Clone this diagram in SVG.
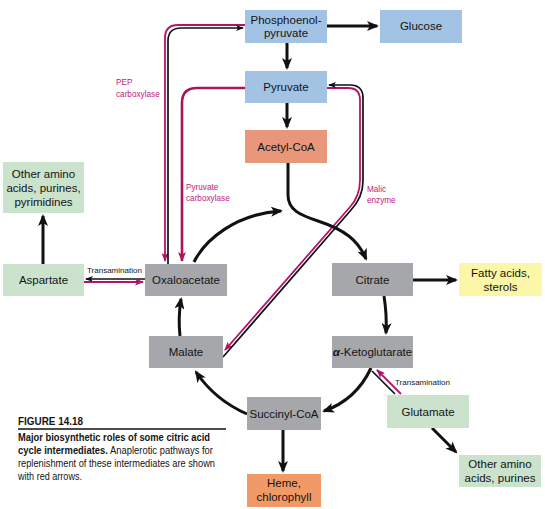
<svg xmlns="http://www.w3.org/2000/svg" width="545" height="509" viewBox="0 0 545 509">
<style>
.t{font-family:"Liberation Sans",Arial,sans-serif;font-size:11.5px;fill:#141414;text-anchor:middle}
.lbl{font-family:"Liberation Sans",Arial,sans-serif;font-size:8.2px;fill:#c0187e}
.tr{font-family:"Liberation Sans",Arial,sans-serif;font-size:8px;fill:#141414}
.cap{font-family:"Liberation Sans Narrow","Liberation Sans",Arial,sans-serif;font-size:10px;fill:#141414}
.blue{fill:#a3c3e5}
.gray{fill:#a6a7aa}
.green{fill:#cbe2cd}
.salmon{fill:#e9977b}
.orange{fill:#f19a68}
.yellow{fill:#fbf7a6}
.k{fill:none;stroke:#111;stroke-width:3}
.kt{fill:none;stroke:#111;stroke-width:1.7}
.m{fill:none;stroke:#b3136f;stroke-width:1.8}
.m2{fill:none;stroke:#a8145f;stroke-width:2.6}
</style>
<defs>
<marker id="ah" viewBox="0 0 12 10" refX="10" refY="5" markerWidth="12" markerHeight="10" orient="auto" markerUnits="userSpaceOnUse"><path d="M0,0 L12,5 L0,10 L3,5z" fill="#111"/></marker>
<marker id="sk" viewBox="0 0 8 6" refX="7" refY="3" markerWidth="8" markerHeight="6" orient="auto" markerUnits="userSpaceOnUse"><path d="M0,0 L8,3 L0,6 L2,3z" fill="#111"/></marker>
<marker id="sm" viewBox="0 0 9 7" refX="8" refY="3.5" markerWidth="9" markerHeight="7" orient="auto" markerUnits="userSpaceOnUse"><path d="M0,0 L9,3.5 L0,7 L2,3.5z" fill="#b3136f"/></marker>
<marker id="sm2" viewBox="0 0 10 8" refX="9" refY="4" markerWidth="10" markerHeight="8" orient="auto" markerUnits="userSpaceOnUse"><path d="M0,0 L10,4 L0,8 L2.5,4z" fill="#a8145f"/></marker>
</defs>

<g id="connectors">
<path class="m" d="M245 25 H178 Q165 25 165 38 V261" marker-end="url(#sm)"/>
<path class="kt" d="M168 264 V41 Q168 28 181 28 H243" marker-end="url(#sk)"/>
<path class="m2" d="M245 88 H197 Q182 88 182 103 V261" marker-end="url(#sm2)"/>
<path class="m" d="M327 88 H348 Q360 88 360 100 V180 Q360 196 350 207 L225 350" marker-end="url(#sm)"/>
<path class="kt" d="M223 357 L351 210 Q363 197 363 181 V98 Q363 85 350 85 H329" marker-end="url(#sk)"/>
<path class="kt" d="M145 279 H86" marker-end="url(#sk)"/>
<path class="m" d="M84 282 H143" marker-end="url(#sm)"/>
<path class="m" d="M401 394 L377 370" marker-end="url(#sm)"/>
<path class="kt" d="M372 371 L395 394"/>
<path class="k" d="M194 262 C205 240 235 214 281 211" marker-end="url(#ah)"/>
<path class="k" d="M288 163 V195 C288 210 300 215 318 221 C345 230 358 240 366 259" marker-end="url(#ah)"/>
<path class="k" d="M384 296 Q387 315 386 333" marker-end="url(#ah)"/>
<path class="k" d="M371 368 Q356 400 324 411" marker-end="url(#ah)"/>
<path class="k" d="M247 414 Q215 400 196 372" marker-end="url(#ah)"/>
<path class="k" d="M180 336 Q178 318 181 299" marker-end="url(#ah)"/>
<path class="k" d="M327 26 H377" marker-end="url(#ah)"/>
<path class="k" d="M287 43 V68" marker-end="url(#ah)"/>
<path class="k" d="M287 103 V127" marker-end="url(#ah)"/>
<path class="k" d="M43 264 V216" marker-end="url(#ah)"/>
<path class="k" d="M413 280 H456" marker-end="url(#ah)"/>
<path class="k" d="M283 430 V471" marker-end="url(#ah)"/>
<path class="k" d="M432 428 L456 452" marker-end="url(#ah)"/>
</g>

<g id="labels">
<text class="lbl" x="116" y="85">PEP</text>
<text class="lbl" x="116" y="97">carboxylase</text>
<text class="lbl" x="186" y="190">Pyruvate</text>
<text class="lbl" x="186" y="201">carboxylase</text>
<text class="lbl" x="367" y="192">Malic</text>
<text class="lbl" x="367" y="203">enzyme</text>
<text class="tr" x="87" y="273">Transamination</text>
<text class="tr" x="395" y="385">Transamination</text>
</g>

<g id="pep"><rect class="blue" x="245" y="10" width="82" height="33"/><text class="t" x="286" y="24">Phosphoenol-</text><text class="t" x="286" y="37">pyruvate</text></g>
<g id="glucose"><rect class="blue" x="380" y="10" width="82" height="33"/><text class="t" x="421" y="30">Glucose</text></g>
<g id="pyruvate"><rect class="blue" x="245" y="71" width="82" height="32"/><text class="t" x="286" y="91">Pyruvate</text></g>
<g id="acetylcoa"><rect class="salmon" x="245" y="130" width="82" height="33"/><text class="t" x="286" y="151">Acetyl-CoA</text></g>
<g id="other1"><rect class="green" x="3" y="162" width="81" height="51"/><text class="t" x="43.5" y="178">Other amino</text><text class="t" x="43.5" y="192">acids, purines,</text><text class="t" x="43.5" y="206">pyrimidines</text></g>
<g id="aspartate"><rect class="green" x="3" y="264" width="81" height="32"/><text class="t" x="43.5" y="284">Aspartate</text></g>
<g id="oxaloacetate"><rect class="gray" x="145" y="264" width="82" height="32"/><text class="t" x="186" y="284">Oxaloacetate</text></g>
<g id="citrate"><rect class="gray" x="332" y="263" width="81" height="33"/><text class="t" x="372.5" y="284">Citrate</text></g>
<g id="fatty"><rect class="yellow" x="459" y="263" width="83" height="33"/><text class="t" x="500.5" y="277">Fatty acids,</text><text class="t" x="500.5" y="291">sterols</text></g>
<g id="malate"><rect class="gray" x="149" y="336" width="74" height="32"/><text class="t" x="186" y="356">Malate</text></g>
<g id="akg"><rect class="gray" x="332" y="336" width="81" height="32"/><text class="t" x="372.5" y="356"><tspan font-style="italic" font-weight="bold">α</tspan>-Ketoglutarate</text></g>
<g id="succinyl"><rect class="gray" x="247" y="397" width="74" height="33"/><text class="t" x="284" y="418">Succinyl-CoA</text></g>
<g id="glutamate"><rect class="green" x="387" y="395" width="82" height="33"/><text class="t" x="428" y="416">Glutamate</text></g>
<g id="heme"><rect class="orange" x="247" y="474" width="74" height="33"/><text class="t" x="284" y="487">Heme,</text><text class="t" x="284" y="501">chlorophyll</text></g>
<g id="other2"><rect class="green" x="459" y="455" width="82" height="32"/><text class="t" x="500" y="468">Other amino</text><text class="t" x="500" y="482">acids, purines</text></g>

<g id="caption">
<text class="cap" x="18" y="425" font-weight="bold" font-size="11.5" textLength="65" lengthAdjust="spacingAndGlyphs">FIGURE 14.18</text>
<line x1="18" y1="429" x2="226" y2="429" stroke="#111" stroke-width="1.6"/>
<text class="cap" x="18" y="441" font-weight="bold" textLength="192" lengthAdjust="spacingAndGlyphs">Major biosynthetic roles of some citric acid</text>
<text class="cap" x="18" y="454" textLength="195" lengthAdjust="spacingAndGlyphs"><tspan font-weight="bold">cycle intermediates.</tspan> Anaplerotic pathways for</text>
<text class="cap" x="18" y="467" textLength="197" lengthAdjust="spacingAndGlyphs">replenishment of these intermediates are shown</text>
<text class="cap" x="18" y="480" textLength="64" lengthAdjust="spacingAndGlyphs">with red arrows.</text>
</g>
</svg>
